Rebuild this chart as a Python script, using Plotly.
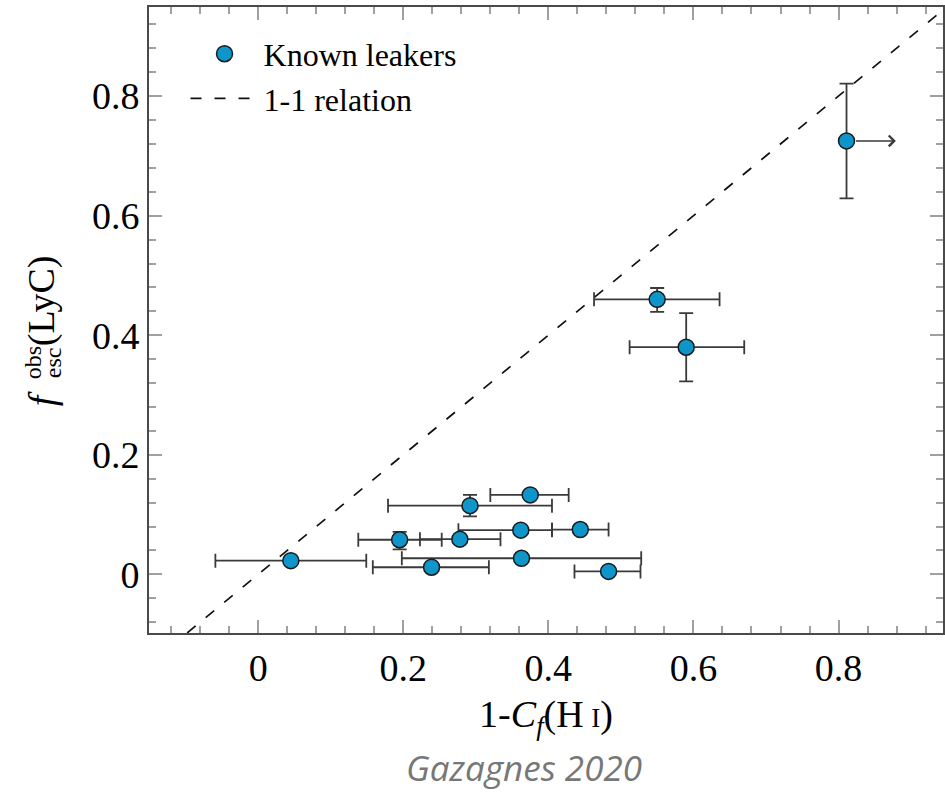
import plotly.graph_objects as go

# ---- data ----
x_vals = [0.045, 0.239, 0.195, 0.278, 0.292, 0.375, 0.363, 0.362, 0.444, 0.483, 0.550, 0.590, 0.811]
y_vals = [0.023, 0.012, 0.058, 0.059, 0.115, 0.133, 0.027, 0.074, 0.075, 0.005, 0.460, 0.380, 0.725]
x_low  = [-0.059, 0.158, 0.138, 0.223, 0.179, 0.320, 0.198, 0.276, 0.405, 0.436, 0.463, 0.512, None]
x_high = [0.149, 0.318, 0.253, 0.334, 0.405, 0.428, 0.528, 0.405, 0.483, 0.527, 0.636, 0.670, None]
y_low  = [None, None, 0.042, None, 0.097, None, None, None, None, None, 0.439, 0.323, 0.629]
y_high = [None, None, 0.071, None, 0.133, None, None, None, None, None, 0.479, 0.437, 0.821]
# lower limit on x for the top-right point (arrow)
limit_index = 12
limit_x_end = 0.879
one_to_one = [-0.2, 1.0]
x_ticks = [0, 0.2, 0.4, 0.6, 0.8]
x_tick_labels = ["0", "0.2", "0.4", "0.6", "0.8"]
y_ticks = [0, 0.2, 0.4, 0.6, 0.8]
y_tick_labels = ["0", "0.2", "0.4", "0.6", "0.8"]


def err_plus(v, hi):
    return [None if h is None else h - a for a, h in zip(v, hi)]


def err_minus(v, lo):
    return [None if l is None else a - l for a, l in zip(v, lo)]


SERIF = "Liberation Serif"
ERR_COL = "#3a3a3a"
W, H = 945, 792
ML, MR, MT, MB = 149, 0, 7, 159
PW, PH = W - ML - MR, H - MT - MB


def px_to_paper(px, py):
    return (px - ML) / PW, (H - MB - py) / PH


fig = go.Figure()

fig.add_trace(go.Scatter(
    x=one_to_one, y=one_to_one, mode="lines", name="1-1 relation",
    line=dict(color="#111111", width=1.7, dash="11px,13px"),
))

fig.add_trace(go.Scatter(
    x=x_vals, y=y_vals, mode="markers", name="Known leakers",
    marker=dict(size=16, color="#0E96CB", line=dict(color="#1a1a1a", width=1.5)),
    error_x=dict(type="data", symmetric=False,
                 array=err_plus(x_vals, x_high), arrayminus=err_minus(x_vals, x_low),
                 color=ERR_COL, thickness=1.8, width=7),
    error_y=dict(type="data", symmetric=False,
                 array=err_plus(y_vals, y_high), arrayminus=err_minus(y_vals, y_low),
                 color=ERR_COL, thickness=1.8, width=7),
))

fig.data[0].legendrank = 2
fig.data[1].legendrank = 1

# lower-limit arrow
fig.add_annotation(
    x=limit_x_end, y=y_vals[limit_index], ax=x_vals[limit_index], ay=y_vals[limit_index],
    xref="x", yref="y", axref="x", ayref="y", text="", showarrow=True,
    arrowhead=4, arrowsize=1.3, arrowwidth=1.6, arrowcolor=ERR_COL, startstandoff=8,
)

axis_common = dict(
    showline=True, mirror="allticks", linecolor="#4a4a4a", linewidth=2,
    ticks="inside", ticklen=13, tickwidth=1.5, tickcolor="#a0a0a0",
    showgrid=False, zeroline=False,
    tickfont=dict(family=SERIF, size=38, color="black"),
    minor=dict(ticks="inside", dtick=0.04, tick0=0, ticklen=7, tickwidth=1.5,
               tickcolor="#a0a0a0", showgrid=False),
)

fig.update_xaxes(
    range=[-0.1505, 0.944], tickmode="array", tickvals=x_ticks, ticktext=x_tick_labels,
    ticklabelstandoff=0,
    title=dict(text="1-<i>C</i><sub><i>f</i></sub>(H\u2009<span style='font-size:27px'>I</span>)",
               font=dict(family=SERIF, size=38, color="black"), standoff=13),
    **axis_common,
)
fig.update_yaxes(
    range=[-0.098, 0.949], tickmode="array", tickvals=y_ticks, ticktext=y_tick_labels,
    ticklabelstandoff=0,
    **axis_common,
)


def add_text(px, py, text, size, **kw):
    xp, yp = px_to_paper(px, py)
    fig.add_annotation(xref="paper", yref="paper", x=xp, y=yp, text=text,
                       xanchor="center", yanchor="middle", showarrow=False,
                       font=dict(family=kw.pop("family", SERIF), size=size,
                                 color=kw.pop("color", "black")), **kw)


# y-axis title built from pieces so that obs/esc can be stacked
add_text(41, 301, "(LyC)", 38, textangle=-90)
add_text(33, 363, "obs", 24, textangle=-90)
add_text(53, 363, "esc", 24, textangle=-90)
add_text(42, 399, "<i>f</i>", 38, textangle=-90)

# caption
add_text(525, 767, "<i>Gazagnes 2020</i>", 35, family="Open Sans", color="#777777")

fig.update_layout(
    width=W, height=H,
    margin=dict(l=ML, r=MR, t=MT, b=MB),
    paper_bgcolor="white", plot_bgcolor="white",
    showlegend=True,
    legend=dict(x=0.046, y=0.969, xanchor="left", yanchor="top",
                bgcolor="rgba(0,0,0,0)", font=dict(family=SERIF, size=32, color="black"),
                itemwidth=68),
)

fig.write_html("out.html")
